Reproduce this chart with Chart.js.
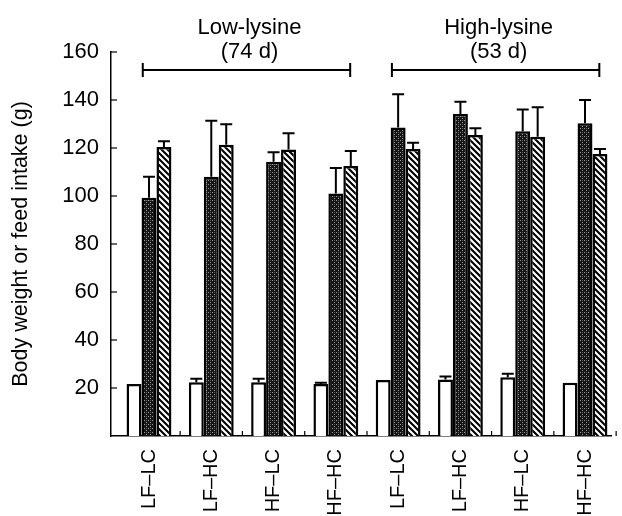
<!DOCTYPE html>
<html>
<head>
<meta charset="utf-8">
<script src="https://cdn.jsdelivr.net/npm/chart.js@4.4.1/dist/chart.umd.min.js"></script>
<style>
  body { margin: 0; background: #fff; }
  #wrap { width: 622px; height: 516px; }
</style>
</head>
<body>
<div id="wrap"><canvas id="pesoConsumo"></canvas></div>
<script>
// groups (diet) along the x axis
var grupos = ["LF–LC", "LF–HC", "HF–LC", "HF–HC", "LF–LC", "LF–HC", "HF–LC", "HF–HC"];

// initial body weight (white bars)
var pesoInicial = [21.7, 22.4, 22.4, 21.7, 23.3, 23.5, 24.5, 22.2];
var erroInicial = [0, 1.5, 1.5, 0.5, 0, 1.3, 1.4, 0];

// final body weight (dark bars)
var pesoFinal = [99.3, 108, 114.3, 101, 128.5, 134.2, 127, 130.3];
var erroFinal = [8.7, 23.4, 3.9, 10.7, 13.9, 5.1, 9, 9.7];

// feed intake (hatched bars)
var consumo = [120.4, 121.4, 119.4, 112.5, 119.6, 125.4, 124.7, 117.5];
var erroConsumo = [2.4, 8.5, 6.7, 6.3, 2.6, 2.8, 12.3, 2.1];

// y axis ticks
var yTicks = [20, 40, 60, 80, 100, 120, 140, 160];

// brackets over the groups
var fases = ["Low-lysine", "High-lysine"];
var fasesDias = ["(74 d)", "(53 d)"];
var fasesInicio = [0, 4];
var fasesFim = [3, 7];

var fonte = "'Liberation Sans', Arial, sans-serif";

function pontos(valores) {
    return valores.map(function (v, i) { return { x: i, y: v }; });
}

// dark stippled fill
function padraoEscuro(ctx) {
    var c = document.createElement('canvas');
    c.width = 4; c.height = 4;
    var p = c.getContext('2d');
    p.fillStyle = '#151515';
    p.fillRect(0, 0, 4, 4);
    p.fillStyle = '#9a9a9a';
    p.fillRect(0, 0, 1, 1);
    p.fillRect(2, 2, 1, 1);
    p.fillStyle = '#555';
    p.fillRect(2, 0, 1, 1);
    return ctx.createPattern(c, 'repeat');
}

// diagonal hatch "\\\"
function padraoHachura(ctx) {
    var s = 6;
    var c = document.createElement('canvas');
    c.width = s; c.height = s;
    var p = c.getContext('2d');
    p.fillStyle = '#fff';
    p.fillRect(0, 0, s, s);
    p.strokeStyle = '#000';
    p.lineWidth = 2.1;
    p.beginPath();
    p.moveTo(-1, -1); p.lineTo(s + 1, s + 1);
    p.moveTo(-1, s - 1); p.lineTo(1, s + 1);
    p.moveTo(s - 1, -1); p.lineTo(s + 1, 1);
    p.stroke();
    return ctx.createPattern(c, 'repeat');
}

// error bars, inner ticks and the brackets on top
var extras = {
    id: 'extras',
    afterDatasetsDraw: function (chart) {
        var ctx = chart.ctx;
        var y = chart.scales.y;
        ctx.save();
        ctx.strokeStyle = '#000';
        ctx.lineWidth = 2;
        chart.data.datasets.forEach(function (ds, i) {
            var meta = chart.getDatasetMeta(i);
            meta.data.forEach(function (bar, j) {
                var e = ds.erros[j];
                if (!e) return;
                var topo = y.getPixelForValue(ds.data[j].y + e);
                ctx.beginPath();
                ctx.moveTo(bar.x, bar.y);
                ctx.lineTo(bar.x, topo);
                ctx.moveTo(bar.x - 6, topo);
                ctx.lineTo(bar.x + 6, topo);
                ctx.stroke();
            });
        });
        ctx.restore();
    },
    afterDraw: function (chart) {
        var ctx = chart.ctx;
        var x = chart.scales.x, y = chart.scales.y;
        var area = chart.chartArea;
        ctx.save();
        ctx.strokeStyle = '#000';
        ctx.lineWidth = 1.2;
        // y ticks pointing inward
        yTicks.forEach(function (t) {
            var py = y.getPixelForValue(t);
            ctx.beginPath();
            ctx.moveTo(area.left, py);
            ctx.lineTo(area.left + 6, py);
            ctx.stroke();
        });
        // small ticks between groups
        for (var i = 0; i < grupos.length; i++) {
            var px = x.getPixelForValue(i + 0.5);
            ctx.beginPath();
            ctx.moveTo(px, area.bottom);
            ctx.lineTo(px, area.bottom - 5);
            ctx.stroke();
        }
        // brackets
        ctx.lineWidth = 2;
        ctx.fillStyle = '#000';
        ctx.font = '22px ' + fonte;
        ctx.textAlign = 'center';
        ctx.textBaseline = 'alphabetic';
        fases.forEach(function (f, k) {
            var x0 = x.getPixelForValue(fasesInicio[k] - 0.1);
            var x1 = x.getPixelForValue(fasesFim[k] + 0.23);
            var by = 70;
            ctx.beginPath();
            ctx.moveTo(x0, by); ctx.lineTo(x1, by);
            ctx.moveTo(x0, by - 7); ctx.lineTo(x0, by + 7);
            ctx.moveTo(x1, by - 7); ctx.lineTo(x1, by + 7);
            ctx.stroke();
            var cx = (x0 + x1) / 2 + 3;
            ctx.fillText(f, cx, 34);
            ctx.fillText(fasesDias[k], cx, 58);
        });
        ctx.restore();
    }
};

var ctx = document.getElementById('pesoConsumo').getContext('2d');
var chart = new Chart(ctx, {
    type: 'bar',
    data: {
        datasets: [{
            label: "Initial body weight",
            data: pontos(pesoInicial),
            erros: erroInicial,
            backgroundColor: '#fff',
            borderColor: '#000',
            borderWidth: 2.5
        }, {
            label: "Final body weight",
            data: pontos(pesoFinal),
            erros: erroFinal,
            backgroundColor: padraoEscuro(ctx),
            borderColor: '#000',
            borderWidth: 2.5
        }, {
            label: "Feed intake",
            data: pontos(consumo),
            erros: erroConsumo,
            backgroundColor: padraoHachura(ctx),
            borderColor: '#000',
            borderWidth: 2.5
        }]
    },
    options: {
        responsive: true,
        maintainAspectRatio: false,
        animation: false,
        layout: { padding: { top: 52, left: 8, right: 0, bottom: 0 } },
        categoryPercentage: 0.72,
        barPercentage: 1.0,
        plugins: { legend: { display: false }, tooltip: { enabled: false } },
        scales: {
            x: {
                type: 'linear',
                offset: false,
                min: -0.61,
                max: 7.42,
                afterBuildTicks: function (scale) {
                    scale.ticks = grupos.map(function (g, i) { return { value: i }; });
                },
                afterFit: function (scale) { scale.height = 80; },
                grid: { offset: false, drawOnChartArea: false, drawTicks: false },
                border: { color: '#000', width: 1.5 },
                ticks: {
                    autoSkip: false,
                    minRotation: 90,
                    maxRotation: 90,
                    padding: 13,
                    color: '#000',
                    font: { family: fonte, size: 20 },
                    callback: function (v) { return grupos[v]; }
                }
            },
            y: {
                min: 0,
                max: 160,
                afterBuildTicks: function (scale) {
                    scale.ticks = yTicks.map(function (t) { return { value: t }; });
                },
                afterFit: function (scale) { scale.width = 103; },
                grid: { drawOnChartArea: false, drawTicks: false },
                border: { color: '#000', width: 1.5 },
                ticks: {
                    padding: 12,
                    color: '#000',
                    font: { family: fonte, size: 22 }
                },
                title: {
                    display: true,
                    text: 'Body weight or feed intake (g)',
                    color: '#000',
                    font: { family: fonte, size: 21.5 },
                    padding: 0
                }
            }
        }
    },
    plugins: [extras]
});
</script>
</body>
</html>
